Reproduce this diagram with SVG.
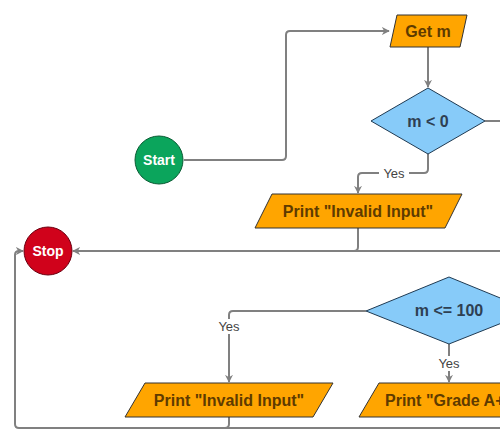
<svg xmlns="http://www.w3.org/2000/svg" width="500" height="434" viewBox="0 0 500 434">
<defs>
<style>
.edge{fill:none;stroke:#808080;stroke-width:2;}
.io{fill:#FFA500;stroke:#333;stroke-width:1;}
.dec{fill:#87CBF9;stroke:#1f3a52;stroke-width:1;}
.t{font-family:"Liberation Sans",Arial,sans-serif;font-weight:bold;font-size:16px;text-anchor:middle;dominant-baseline:central;}
.io-t{fill:#5E3B00;}
.dec-t{fill:#2E4053;}
.c-t{fill:#fff;font-size:14px;}
.lbl{font-family:"Liberation Sans",Arial,sans-serif;font-size:13px;fill:#444;text-anchor:middle;dominant-baseline:central;}
.lblbg{fill:#fff;}
</style>
<marker id="arr" viewBox="0 0 10 10" refX="9" refY="5" markerWidth="8" markerHeight="8" markerUnits="userSpaceOnUse" orient="auto">
<path d="M0,0 L10,5 L0,10 L3,5 Z" fill="#808080"/>
</marker>
</defs>
<g id="connectors">
<path class="edge" d="M184,160 H282 Q286,160 286,156 V35 Q286,31 290,31 H389" marker-end="url(#arr)"/>
<path class="edge" d="M428,47 V87" marker-end="url(#arr)"/>
<path class="edge" d="M485,121 H500"/>
<path class="edge" d="M428,154 V169 Q428,173 424,173 H362 Q358,173 358,177 V193" marker-end="url(#arr)"/>
<path class="edge" d="M358,228 V247 Q358,251 354,251"/>
<path class="edge" d="M500,251 H73" marker-end="url(#arr)"/>
<path class="edge" d="M500,428 H19 Q15,428 15,424 V255 Q15,251 19,251 H23" marker-end="url(#arr)"/>
<path class="edge" d="M366,311 H233 Q229,311 229,315 V382" marker-end="url(#arr)"/>
<path class="edge" d="M449,344 V382" marker-end="url(#arr)"/>
<path class="edge" d="M229,417 V424 Q229,428 225,428"/>
<rect class="lblbg" x="379" y="166" width="30" height="15"/>
<text class="lbl" x="394" y="173">Yes</text>
<rect class="lblbg" x="214" y="319" width="30" height="15"/>
<text class="lbl" x="229" y="326">Yes</text>
<rect class="lblbg" x="434" y="356" width="30" height="15"/>
<text class="lbl" x="449" y="363">Yes</text>
</g>
<g id="start">
<circle cx="159" cy="160" r="24" fill="#0BA55C" stroke="#0a5c34" stroke-width="1"/>
<text class="t c-t" x="159" y="160">Start</text>
</g>
<g id="stop">
<circle cx="48" cy="251" r="24" fill="#D0021B" stroke="#6b0010" stroke-width="1"/>
<text class="t c-t" x="48" y="251">Stop</text>
</g>
<g id="getm">
<polygon class="io" points="397,15 467,15 460,47 390,47"/>
<text class="t io-t" x="428" y="31">Get m</text>
</g>
<g id="dec1">
<polygon class="dec" points="428,88 485,121 428,154 371,121"/>
<text class="t dec-t" x="428" y="121">m &lt; 0</text>
</g>
<g id="invalid1">
<polygon class="io" points="272,194 462,194 445,228 255,228"/>
<text class="t io-t" x="358" y="211">Print "Invalid Input"</text>
</g>
<g id="dec2">
<polygon class="dec" points="449,277 532,311 449,344 366,311"/>
<text class="t dec-t" x="449" y="310">m &lt;= 100</text>
</g>
<g id="invalid2">
<polygon class="io" points="145,383 333,383 313,417 125,417"/>
<text class="t io-t" x="229" y="400">Print "Invalid Input"</text>
</g>
<g id="gradeA">
<polygon class="io" points="379,383 573,383 553,417 359,417"/>
<text class="t io-t" x="385" y="400" style="text-anchor:start">Print "Grade A+"</text>
</g>
</svg>
